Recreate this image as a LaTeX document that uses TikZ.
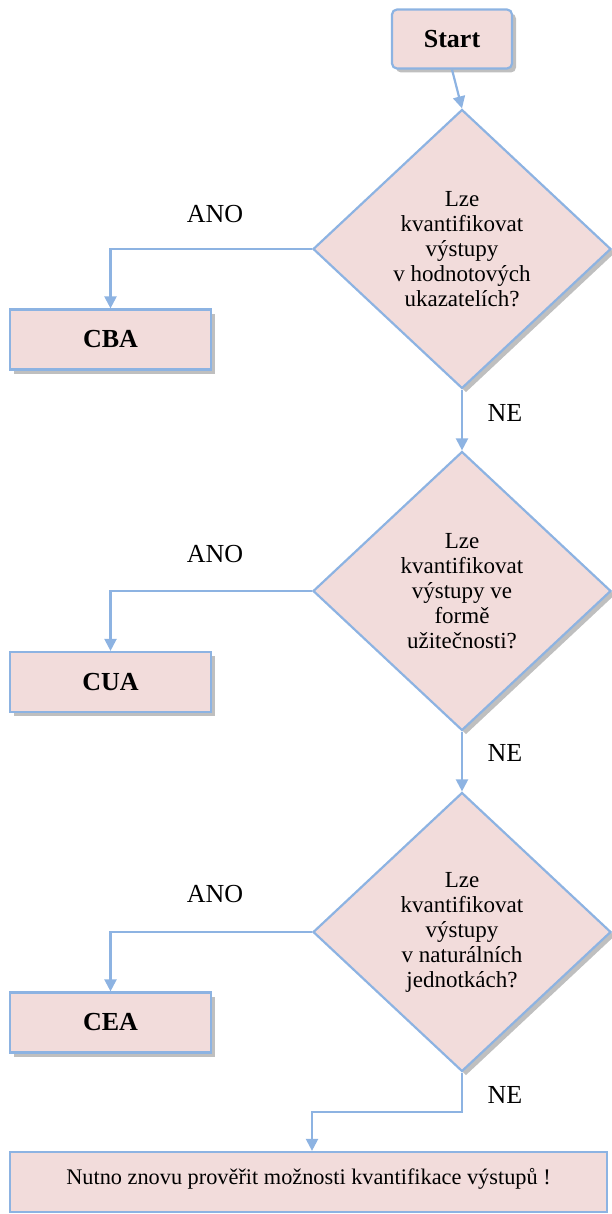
\documentclass[tikz,border=0pt]{standalone}
\usepackage{fontspec}
\setmainfont{Liberation Serif}
\usetikzlibrary{shapes.geometric,arrows.meta,shadows}
\definecolor{boxfill}{HTML}{F2DCDB}
\definecolor{boxline}{HTML}{8DB3E2}
\begin{document}
\begin{tikzpicture}[x=1pt,y=1pt,
  shad/.style={drop shadow={shadow xshift=4pt,shadow yshift=-4pt,fill=gray!50,opacity=1}},
  procbox/.style={rectangle,draw=boxline,fill=boxfill,line width=2.2pt,shad,
    minimum width=201pt,minimum height=60pt,inner sep=0pt,
    font=\fontsize{26}{29}\selectfont\bfseries},
  startbox/.style={procbox,rounded corners=5pt,minimum width=120pt,minimum height=59pt},
  decision/.style={diamond,draw=boxline,fill=boxfill,line width=2.2pt,shad,
    minimum width=298pt,minimum height=279pt,inner sep=0pt,align=center,
    font=\fontsize{23}{25}\selectfont},
  endbox/.style={rectangle,draw=boxline,fill=boxfill,line width=2.2pt,
    minimum width=597pt,minimum height=60pt,inner sep=0pt,
    text height=16pt,text depth=11pt,font=\fontsize{22.3}{25}\selectfont},
  lbl/.style={font=\fontsize{26}{29}\selectfont,inner sep=0pt},
  arr/.style={draw=boxline,line width=2.2pt,-{Triangle[width=12pt,length=12pt]}}
]
\useasboundingbox (0,0) rectangle (612,-1214);
\node[startbox] (start) at (452,-39) {Start};
\node[decision] (d1) at (462,-249) {Lze\\kvantifikovat\\výstupy\\v hodnotových\\ukazatelích?};
\node[procbox] (cba) at (110.5,-339.5) {CBA};
\node[decision] (d2) at (462,-591) {Lze\\kvantifikovat\\výstupy ve\\formě\\užitečnosti?};
\node[procbox] (cua) at (110.5,-682) {CUA};
\node[decision] (d3) at (462,-932) {Lze\\kvantifikovat\\výstupy\\v naturálních\\jednotkách?};
\node[procbox] (cea) at (110.5,-1022.5) {CEA};
\node[endbox] (final) at (308.5,-1182) {Nutno znovu prověřit možnosti kvantifikace výstupů !};

\node[lbl] (ano1) at (215,-214) {ANO};
\node[lbl] (ano2) at (215,-554) {ANO};
\node[lbl] (ano3) at (215,-894) {ANO};
\node[lbl] (ne1) at (505,-413) {NE};
\node[lbl] (ne2) at (505,-753) {NE};
\node[lbl] (ne3) at (505,-1095) {NE};

\draw[arr] (start.south) -- (d1.north);
\draw[arr] (d1.west) -| (cba.north);
\draw[arr] (d1.south) -- (d2.north);
\draw[arr] (d2.west) -| (cua.north);
\draw[arr] (d2.south) -- (d3.north);
\draw[arr] (d3.west) -| (cea.north);
\coordinate (bend) at (312,-1112);
\draw[arr] (d3.south) |- (bend) -- (bend |- final.north);
\end{tikzpicture}
\end{document}
